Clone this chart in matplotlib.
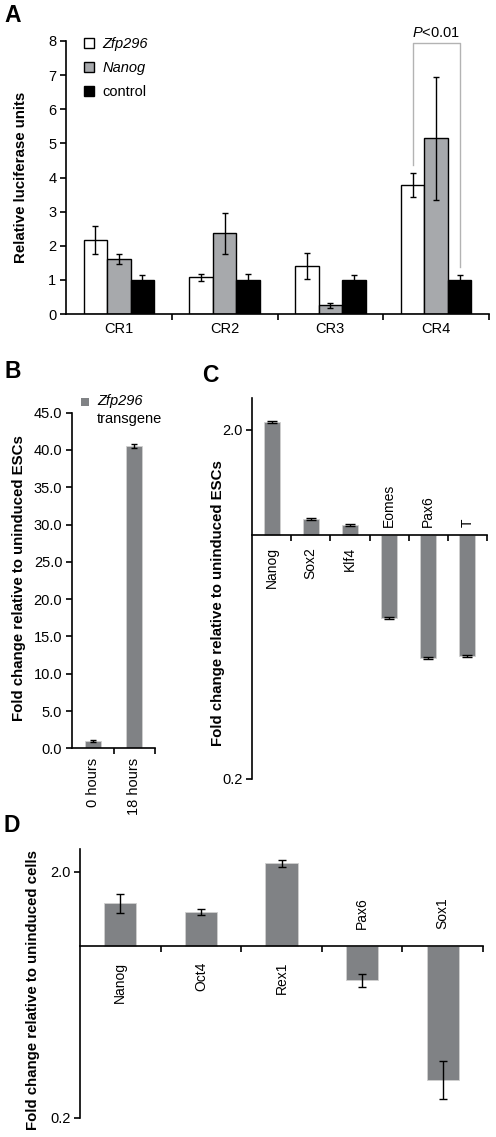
import matplotlib
matplotlib.use('Agg')
import matplotlib.pyplot as plt
from matplotlib.patches import Rectangle
from matplotlib.ticker import FixedLocator, NullLocator, FixedFormatter
import numpy as np

plt.rcParams['font.family'] = ['Liberation Sans', 'DejaVu Sans']
plt.rcParams['mathtext.fontset'] = 'custom'
plt.rcParams['mathtext.it'] = 'Liberation Sans:italic'
plt.rcParams['mathtext.rm'] = 'Liberation Sans'

# panel A: luciferase reporter
a_regions = ['CR1', 'CR2', 'CR3', 'CR4']
a_zfp296 = [2.17, 1.07, 1.42, 3.77]
a_zfp296_err = [0.40, 0.10, 0.38, 0.35]
a_nanog = [1.61, 2.37, 0.25, 5.15]
a_nanog_err = [0.15, 0.60, 0.06, 1.80]
a_control = [1.0, 1.0, 1.0, 1.0]
a_control_err = [0.15, 0.17, 0.13, 0.13]

# panel B: transgene induction
b_labels = ['0 hours', '18 hours']
b_values = [1.0, 40.5]
b_err = [0.1, 0.25]

# panel C: ESC markers
c_genes = ['Nanog', 'Sox2', 'Klf4', 'Eomes', 'Pax6', 'T']
c_values = [2.11, 1.11, 1.07, 0.58, 0.443, 0.45]
c_err = [0.01, 0.006, 0.006, 0.004, 0.003, 0.003]

# panel D: differentiated cells
d_genes = ['Nanog', 'Oct4', 'Rex1', 'Pax6', 'Sox1']
d_values = [1.49, 1.37, 2.16, 0.726, 0.284]
d_lower = [1.36, 1.33, 2.08, 0.677, 0.238]
d_upper = [1.62, 1.41, 2.23, 0.767, 0.339]

W, H = 496, 1137
fig = plt.figure(figsize=(W / 100, H / 100), dpi=100)

BAR_GRAY = '#808285'
LW = 1.2
FS_TICK = 10.5
FS_GENE = 10
FS_YLAB = 10.8
FS_PANEL = 16.5


def px_axes(left, top, right, bottom):
    return fig.add_axes([left / W, 1 - bottom / H, (right - left) / W, (bottom - top) / H])


def px_text(x, y, s, **kw):
    return fig.text(x / W, 1 - y / H, s, **kw)


def style_axes(ax):
    for side in ['top', 'right']:
        ax.spines[side].set_visible(False)
    for side in ['left', 'bottom']:
        ax.spines[side].set_linewidth(LW)
    ax.tick_params(axis='both', which='both', direction='out', width=LW, color='black')


# ---------- A ----------
ax = px_axes(66, 41, 489, 314)
style_axes(ax)
x = np.arange(len(a_regions))
w = 0.222
ekw = dict(ecolor='black', elinewidth=1.0, capsize=2.0, capthick=1.0)
bz = ax.bar(x - w, a_zfp296, w, yerr=a_zfp296_err, color='white', edgecolor='black', linewidth=1.0, error_kw=ekw)
bn = ax.bar(x, a_nanog, w, yerr=a_nanog_err, color='#a7a9ac', edgecolor='black', linewidth=1.0, error_kw=ekw)
bc = ax.bar(x + w, a_control, w, yerr=a_control_err, color='black', edgecolor='black', linewidth=1.0, error_kw=ekw)
ax.set_xlim(-0.5, 3.5)
ax.set_ylim(0, 8)
ax.set_yticks(range(0, 9))
ax.set_xticks(x)
ax.set_xticklabels(a_regions)
ax.xaxis.set_minor_locator(FixedLocator([0.5, 1.5, 2.5, 3.5]))
ax.tick_params(axis='x', which='major', length=0, pad=6, labelsize=FS_TICK)
ax.tick_params(axis='x', which='minor', length=4)
ax.tick_params(axis='y', length=4, labelsize=FS_TICK, pad=3)

# significance bracket
bx = [3 - w, 3 - w, 3 + w, 3 + w]
by = [4.37, 7.95, 7.95, 1.38]
ax.plot(bx, by, color='#b3b3b3', lw=1.0, clip_on=False)
ax.text(3, 8.02, r'$\it{P}$<0.01', ha='center', va='bottom', fontsize=FS_TICK, clip_on=False)

leg = ax.legend([bz[0], bn[0], bc[0]], ['Zfp296', 'Nanog', 'control'],
                loc='upper left', bbox_to_anchor=(84 / W, 1 - 37 / H), bbox_transform=fig.transFigure,
                frameon=False, handlelength=0.7, handleheight=0.7, handletextpad=0.55,
                labelspacing=0.68, borderpad=0, borderaxespad=0, fontsize=FS_TICK)
leg.get_texts()[0].set_style('italic')
leg.get_texts()[1].set_style('italic')

px_text(21, 177, 'Relative luciferase units', rotation=90, ha='center', va='center',
        fontsize=FS_YLAB, fontweight='bold')
px_text(13, 15, 'A', ha='center', va='center', fontsize=FS_PANEL, fontweight='bold')

# ---------- B ----------
ax = px_axes(72, 412.7, 155, 748.3)
style_axes(ax)
xb = np.arange(len(b_labels))
ax.bar(xb, b_values, 0.39, yerr=b_err, color=BAR_GRAY, edgecolor='#d0d0d0', linewidth=0.6,
       error_kw=dict(ecolor='black', elinewidth=1.0, capsize=2.4, capthick=1.0))
ax.set_xlim(-0.5, 1.5)
ax.set_ylim(0, 45)
ax.set_yticks(np.arange(0, 46, 5))
ax.set_yticklabels(['%.1f' % v for v in np.arange(0, 46, 5)])
ax.set_xticks(xb)
ax.set_xticklabels(b_labels, rotation=90, ha='center', va='top')
ax.xaxis.set_minor_locator(FixedLocator([0.5, 1.5]))
ax.tick_params(axis='x', which='major', length=0, pad=7, labelsize=FS_TICK)
ax.tick_params(axis='x', which='minor', length=4)
ax.tick_params(axis='y', length=4, labelsize=FS_TICK, pad=3)

fig.add_artist(Rectangle((81 / W, 1 - 406 / H), 8 / W, 8 / H, transform=fig.transFigure,
                         facecolor=BAR_GRAY, edgecolor='none'))
px_text(97, 401, 'Zfp296', ha='left', va='center', fontsize=FS_TICK, style='italic')
px_text(97, 419, 'transgene', ha='left', va='center', fontsize=FS_TICK)
px_text(19, 578, 'Fold change relative to uninduced ESCs', rotation=90, ha='center', va='center',
        fontsize=FS_YLAB, fontweight='bold')
px_text(13, 372, 'B', ha='center', va='center', fontsize=FS_PANEL, fontweight='bold')


# ---------- C and D: log-scale fold change around 1 ----------
def fold_panel(ax, genes, values, yerr, width, gap_below, gap_above, capsize):
    style_axes(ax)
    ax.set_yscale('log')
    xs = np.arange(len(genes))
    heights = [v - 1 for v in values]
    ax.bar(xs, heights, width, bottom=1, color=BAR_GRAY, edgecolor='#d0d0d0', linewidth=0.6)
    ax.errorbar(xs, values, yerr=yerr, fmt='none', ecolor='black', elinewidth=1.0,
                capsize=capsize, capthick=1.0)
    ax.set_xlim(-0.5, len(genes) - 0.5)
    ax.set_ylim(0.2, 2.47)
    ax.spines['bottom'].set_position(('data', 1))
    ax.yaxis.set_major_locator(FixedLocator([0.2, 2.0]))
    ax.yaxis.set_major_formatter(FixedFormatter(['0.2', '2.0']))
    ax.yaxis.set_minor_locator(NullLocator())
    ax.xaxis.set_major_locator(FixedLocator(np.arange(len(genes)) + 0.5))
    ax.xaxis.set_major_formatter(FixedFormatter([''] * len(genes)))
    ax.tick_params(axis='x', length=4)
    ax.tick_params(axis='y', length=4, labelsize=FS_TICK, pad=3)
    for xi, g, v in zip(xs, genes, values):
        if v >= 1:
            ax.annotate(g, xy=(xi, 1), xytext=(0, -gap_below), textcoords='offset points',
                        rotation=90, ha='center', va='top', fontsize=FS_GENE)
        else:
            ax.annotate(g, xy=(xi, 1), xytext=(0, gap_above), textcoords='offset points',
                        rotation=90, ha='center', va='bottom', fontsize=FS_GENE)


ax = px_axes(252, 398, 487, 779)
fold_panel(ax, c_genes, c_values, c_err, 0.41, 8.5, 5.8, 3.5)
px_text(218, 603, 'Fold change relative to uninduced ESCs', rotation=90, ha='center', va='center',
        fontsize=FS_YLAB, fontweight='bold')
px_text(210, 376, 'C', ha='center', va='center', fontsize=FS_PANEL, fontweight='bold')

ax = px_axes(80, 849, 483, 1117.7)
d_err = [np.array(d_values) - np.array(d_lower), np.array(d_upper) - np.array(d_values)]
fold_panel(ax, d_genes, d_values, d_err, 0.4, 11.5, 12, 2.8)
px_text(33, 990, 'Fold change relative to uninduced cells', rotation=90, ha='center', va='center',
        fontsize=FS_YLAB, fontweight='bold')
px_text(12, 825, 'D', ha='center', va='center', fontsize=FS_PANEL, fontweight='bold')

fig.savefig('out.png', dpi=100)
